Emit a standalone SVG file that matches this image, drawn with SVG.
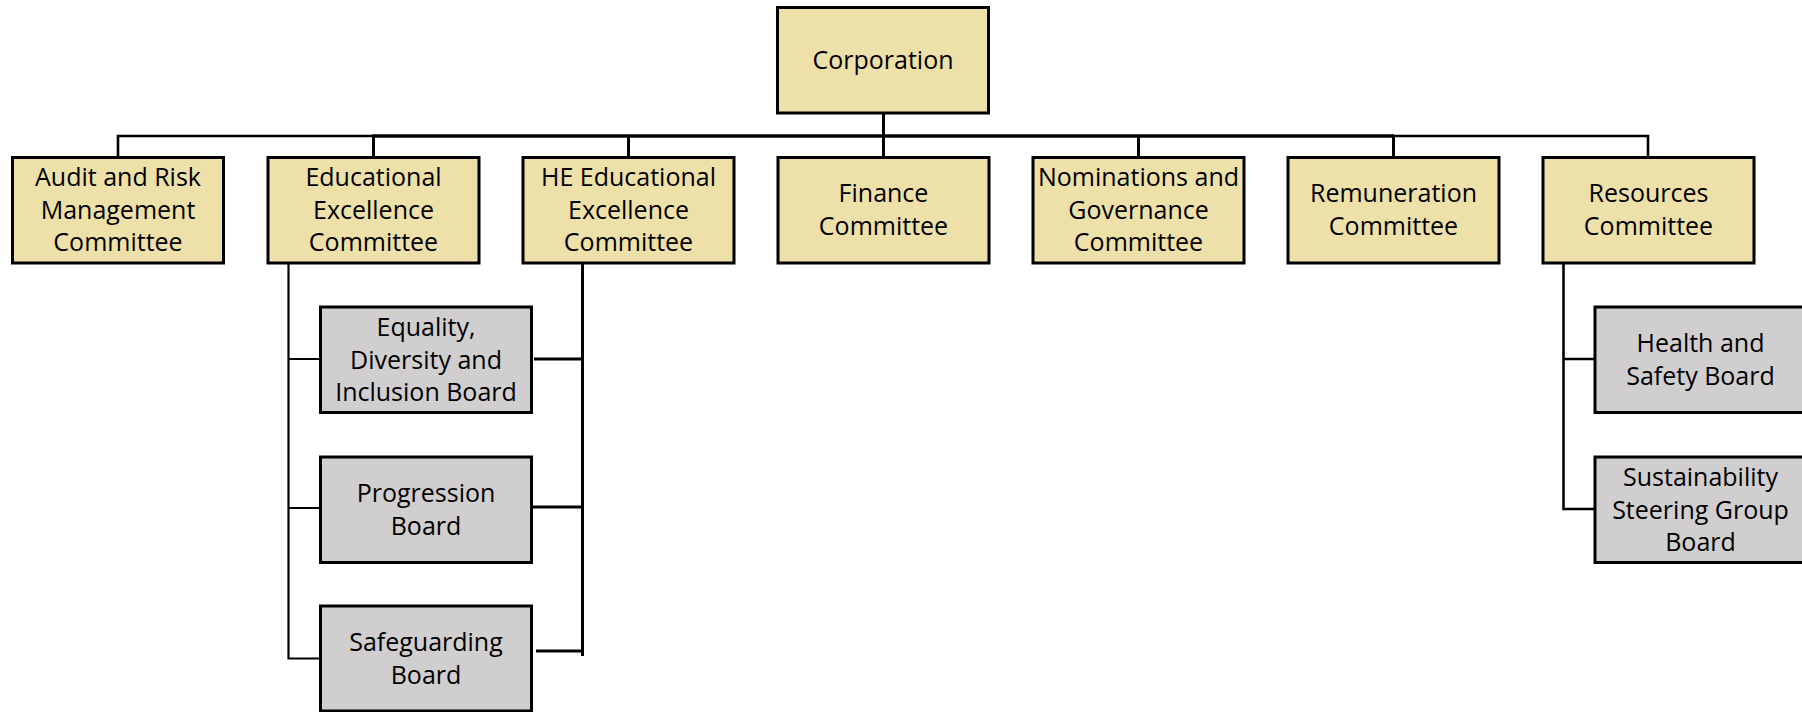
<svg xmlns="http://www.w3.org/2000/svg" width="1802" height="712" viewBox="0 0 1802 712">
<style>
.y{fill:#EEE0A9;stroke:#000;stroke-width:3}
.g{fill:#D0CECE;stroke:#000;stroke-width:3}
text{font-family:"Open Sans","Noto Sans","Liberation Sans",sans-serif;font-size:25px;fill:#000;text-anchor:middle}
.c{fill:none;stroke:#000;stroke-linecap:butt}
</style>
<rect width="1802" height="712" fill="#fff"/>
<g id="connectors">
<path class="c" stroke-width="3" d="M883.5 113V136"/>
<path class="c" stroke-width="2.6" d="M118 157V136H373.5"/>
<path class="c" stroke-width="3.4" d="M372 136H1394"/>
<path class="c" stroke-width="2.6" d="M1393 136H1648V157"/>
<path class="c" stroke-width="3" d="M373.5 136V157M628.5 136V157M883.5 136V157M1138.5 136V157M1393.5 136V157"/>
<path class="c" stroke-width="2.2" d="M288.5 263V658.5H320.5M288.5 359H320.5M288.5 508H320.5"/>
<path class="c" stroke-width="3" d="M582.5 263V656M534 359H582.5M532 507H582.5M536 651H582.5"/>
<path class="c" stroke-width="2.6" d="M1563.5 263V509H1595M1563.5 359H1595"/>
</g>
<g id="corporation"><rect class="y" x="777.5" y="7.5" width="211" height="105.5"/><text x="883" y="69">Corporation</text></g>
<g id="audit"><rect class="y" x="12.5" y="157.5" width="211" height="105.5"/><text x="118" y="186">Audit and Risk</text><text x="118" y="218.5">Management</text><text x="118" y="251">Committee</text></g>
<g id="educational"><rect class="y" x="268" y="157.5" width="211" height="105.5"/><text x="373.5" y="186">Educational</text><text x="373.5" y="218.5">Excellence</text><text x="373.5" y="251">Committee</text></g>
<g id="he-educational"><rect class="y" x="523" y="157.5" width="211" height="105.5"/><text x="628.5" y="186">HE Educational</text><text x="628.5" y="218.5">Excellence</text><text x="628.5" y="251">Committee</text></g>
<g id="finance"><rect class="y" x="778" y="157.5" width="211" height="105.5"/><text x="883.5" y="202">Finance</text><text x="883.5" y="234.5">Committee</text></g>
<g id="nominations"><rect class="y" x="1033" y="157.5" width="211" height="105.5"/><text x="1138.5" y="186">Nominations and</text><text x="1138.5" y="218.5">Governance</text><text x="1138.5" y="251">Committee</text></g>
<g id="remuneration"><rect class="y" x="1288" y="157.5" width="211" height="105.5"/><text x="1393.5" y="202">Remuneration</text><text x="1393.5" y="234.5">Committee</text></g>
<g id="resources"><rect class="y" x="1543" y="157.5" width="211" height="105.5"/><text x="1648.5" y="202">Resources</text><text x="1648.5" y="234.5">Committee</text></g>
<g id="edi"><rect class="g" x="320.5" y="307" width="211" height="105.5"/><text x="426" y="336">Equality,</text><text x="426" y="368.5">Diversity and</text><text x="426" y="401">Inclusion Board</text></g>
<g id="progression"><rect class="g" x="320.5" y="457" width="211" height="105.5"/><text x="426" y="502">Progression</text><text x="426" y="534.5">Board</text></g>
<g id="safeguarding"><rect class="g" x="320.5" y="606" width="211" height="105"/><text x="426" y="651">Safeguarding</text><text x="426" y="683.5">Board</text></g>
<g id="health-safety"><rect class="g" x="1595" y="307" width="211" height="105.5"/><text x="1700.5" y="352">Health and</text><text x="1700.5" y="384.5">Safety Board</text></g>
<g id="sustainability"><rect class="g" x="1595" y="457" width="211" height="105.5"/><text x="1700.5" y="486">Sustainability</text><text x="1700.5" y="518.5">Steering Group</text><text x="1700.5" y="551">Board</text></g>
</svg>
